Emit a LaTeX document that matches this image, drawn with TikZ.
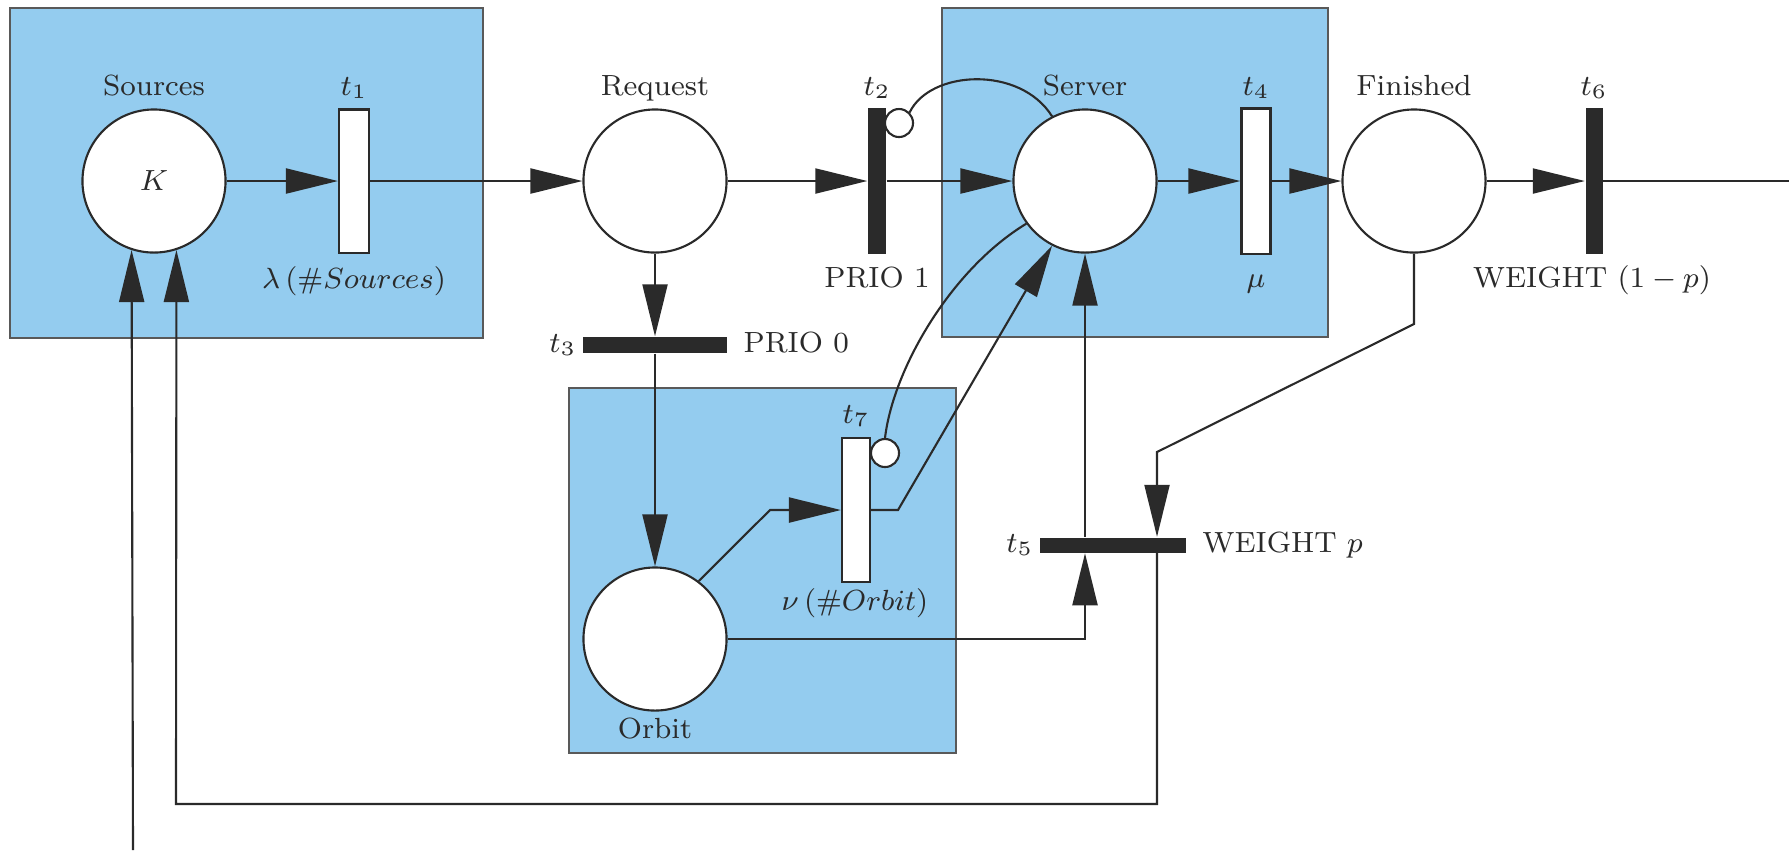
\RequirePackage{fix-cm}
\documentclass[tikz,border=0pt]{standalone}
\usepackage{fontspec}
\usetikzlibrary{arrows.meta,calc}
\definecolor{boxblue}{RGB}{148,204,239}
\definecolor{ink}{RGB}{42,42,42}
\begin{document}
\begin{tikzpicture}[x=0.01cm,y=-0.01cm,
  every node/.style={font=\fontsize{8.3}{10}\selectfont, text=ink},
  line/.style={draw=ink, line width=0.6pt},
  arr/.style={line, -{Triangle[length=0.52cm,width=0.25cm]}},
  place/.style={circle, draw=ink, line width=0.6pt, fill=white, minimum size=1.43cm, inner sep=0pt},
  ttrans/.style={rectangle, draw=ink, line width=0.6pt, fill=white, inner sep=0pt},
  btrans/.style={rectangle, fill=ink, inner sep=0pt},
  inhib/.style={circle, draw=ink, line width=0.6pt, fill=white, minimum size=0.28cm, inner sep=0pt},
  region/.style={draw=black!65, line width=0.5pt, fill=boxblue},
  lbl/.style={anchor=base}
]
\useasboundingbox (0,0) rectangle (1789,850);
% regions
\path[region] (10,8) rectangle (483,338);
\path[region] (942,8) rectangle (1328,337);
\path[region] (569,388) rectangle (956,753);
% places and transitions
\node[place] (src) at (154,181) {$K$};
\node[ttrans, minimum width=0.30cm, minimum height=1.43cm] (t1) at (354,181) {};
\node[place] (req) at (655,181) {};
\node[btrans, minimum width=0.18cm, minimum height=1.45cm] (t2) at (877,181) {};
\node[place] (srv) at (1085,181) {};
\node[ttrans, minimum width=0.29cm, minimum height=1.45cm] (t4) at (1256,181) {};
\node[place] (fin) at (1414,181) {};
\node[btrans, minimum width=0.17cm, minimum height=1.45cm] (t6) at (1594,181) {};
\node[btrans, minimum width=1.43cm, minimum height=0.16cm] (t3) at (655,345) {};
\node[place] (orb) at (655,639) {};
\node[ttrans, minimum width=0.28cm, minimum height=1.44cm] (t7) at (856,510) {};
\node[btrans, minimum width=1.45cm, minimum height=0.15cm] (t5) at (1113,545) {};
\node[inhib] (i2) at (899,123) {};
\node[inhib] (i7) at (885,453) {};
% labels
\node[lbl] (lsrc) at (154,95) {Sources};
\node[lbl] (lt1) at (354,95) {$t_1$};
\node[lbl] (lreq) at (655,95) {Request};
\node[lbl] (lt2) at (877,95) {$t_2$};
\node[lbl] (lsrv) at (1085,95) {Server};
\node[lbl] (lt4) at (1256,95) {$t_4$};
\node[lbl] (lfin) at (1414,95) {Finished};
\node[lbl] (lt6) at (1594,95) {$t_6$};
\node[lbl] (llam) at (354,288) {$\lambda\,(\#Sources)$};
\node[lbl] (lp1) at (877,287) {PRIO 1};
\node[lbl] (lmu) at (1256,287) {$\mu$};
\node[lbl] (lw6) at (1592,287) {WEIGHT $(1-p)$};
\node[anchor=base east, inner sep=0pt] (lt3) at (577,352) {$t_3$};
\node[anchor=base west, inner sep=0pt] (lp0) at (743,352) {PRIO 0};
\node[lbl] (lt7) at (856,423) {$t_7$};
\node[lbl] (lnu) at (855,610) {$\nu\,(\#Orbit)$};
\node[lbl] (lorb) at (655,738) {Orbit};
\node[anchor=base east, inner sep=0pt] (lt5) at (1034,552) {$t_5$};
\node[anchor=base west, inner sep=0pt] (lw5) at (1202,552) {WEIGHT $p$};
% helper coordinates
\coordinate (out6) at (1789,181);
\coordinate (b7) at (770,510);
\coordinate (a7) at (898,510);
\coordinate (f1) at (1414,324);
\coordinate (f2) at (1157,452);
\coordinate (o1) at (1085,639);
\coordinate (g1) at (1157,804);
\coordinate (g2) at (176,804);
\coordinate (ext) at (133,850);
% connectors
\draw[arr] (src.east) -- (t1.west);
\draw[arr] (t1.east) -- (req.west);
\draw[arr] (req.east) -- (t2.west);
\draw[arr] (t2.east) -- (srv.west);
\draw[arr] (srv.east) -- (t4.west);
\draw[arr] (t4.east) -- (fin.west);
\draw[arr] (fin.east) -- (t6.west);
\draw[line] (t6.east) -- (out6);
\draw[arr] (req.south) -- (t3.north);
\draw[arr] (t3.south) -- (orb.north);
\draw[arr] (orb.53) -- (b7) -- (t7.west);
\draw[arr] (t7.east) -- (a7) -- (srv.243);
\draw[line] (i2.45) .. controls (930,70) and (1020,65) .. (srv.117);
\draw[line] (i7.north) .. controls (893,370) and (950,270) .. (srv.216);
\draw[arr] (fin.south) -- (f1) -- (f2) -- (f2 |- t5.north);
\draw[arr] (orb.east) -- (o1) -- (o1 |- t5.south);
\draw[arr] (o1 |- t5.north) -- (srv.south);
\draw[arr] (f2 |- t5.south) -- (g1) -- (g2) -- (src.288);
\draw[arr] (ext) -- (src.252.8);
\end{tikzpicture}
\end{document}
